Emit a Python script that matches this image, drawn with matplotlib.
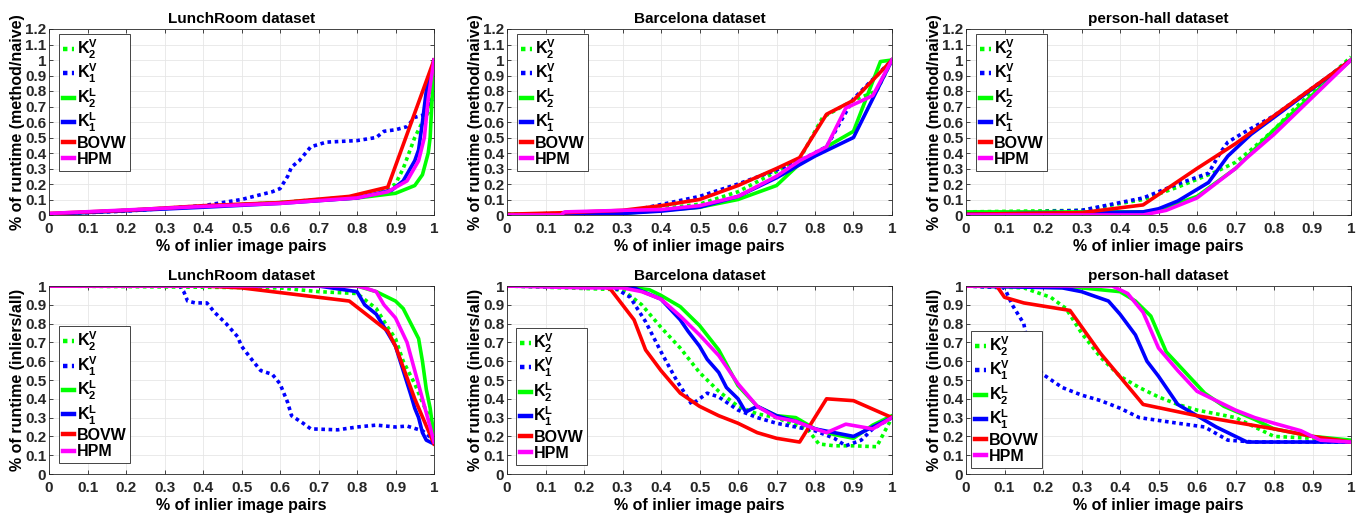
import numpy as np
import matplotlib
matplotlib.use("Agg")
import matplotlib.pyplot as plt

plt.rcParams['font.family'] = ['Liberation Sans', 'DejaVu Sans']
plt.rcParams['font.weight'] = 'bold'
plt.rcParams['mathtext.fontset'] = 'custom'
plt.rcParams['mathtext.bf'] = 'Liberation Sans:bold'
plt.rcParams['mathtext.rm'] = 'Liberation Sans:bold'

titles = ['LunchRoom dataset', 'Barcelona dataset', 'person-hall dataset']
methods = ['K2V', 'K1V', 'K2L', 'K1L', 'BOVW', 'HPM']
labels = [r'$\mathbf{K_2^V}$', r'$\mathbf{K_1^V}$', r'$\mathbf{K_2^L}$',
          r'$\mathbf{K_1^L}$', 'BOVW', 'HPM']
colors = ['#00ff00', '#0000ff', '#00ff00', '#0000ff', '#ff0000', '#ff00ff']
styles = [(0, (1, 1)), (0, (1, 1)), '-', '-', '-', '-']

# ---- top row: runtime (method/naive) ----
lunch_rt = {
    'K2V': ([0, 0.6, 0.85, 0.9, 0.92, 0.95, 0.97, 0.99, 1],
            [0.005, 0.08, 0.13, 0.2, 0.3, 0.5, 0.6, 0.68, 1.0]),
    'K1V': ([0, 0.2, 0.4, 0.5, 0.58, 0.6, 0.62, 0.63, 0.65, 0.68, 0.72, 0.8, 0.85, 0.87, 0.9, 0.93, 0.95, 0.98, 0.99, 1],
            [0.005, 0.025, 0.06, 0.1, 0.15, 0.17, 0.25, 0.31, 0.35, 0.44, 0.47, 0.48, 0.5, 0.54, 0.55, 0.57, 0.63, 0.65, 0.75, 0.72]),
    'K2L': ([0, 0.4, 0.6, 0.8, 0.9, 0.95, 0.97, 0.985, 0.99, 0.995, 1],
            [0.005, 0.055, 0.08, 0.11, 0.14, 0.19, 0.26, 0.4, 0.5, 0.75, 1.0]),
    'K1L': ([0, 0.4, 0.6, 0.8, 0.89, 0.92, 0.95, 0.96, 0.97, 0.98, 1],
            [0.005, 0.05, 0.075, 0.11, 0.16, 0.22, 0.35, 0.42, 0.6, 0.8, 1.0]),
    'BOVW': ([0, 0.2, 0.4, 0.6, 0.78, 0.88, 1],
             [0.01, 0.03, 0.06, 0.08, 0.12, 0.18, 1.0]),
    'HPM': ([0, 0.4, 0.6, 0.8, 0.88, 0.93, 0.96, 0.975, 0.985, 1],
            [0.01, 0.055, 0.075, 0.11, 0.15, 0.22, 0.35, 0.5, 0.75, 1.0]),
}
barca_rt = {
    'K2V': ([0, 0.3, 0.5, 0.6, 0.7, 0.76, 0.82, 0.9, 0.96, 1],
            [0.005, 0.01, 0.07, 0.15, 0.28, 0.36, 0.63, 0.74, 0.8, 1.0]),
    'K1V': ([0, 0.3, 0.5, 0.6, 0.7, 0.76, 0.83, 0.9, 1],
            [0.005, 0.015, 0.12, 0.2, 0.29, 0.35, 0.44, 0.75, 1.0]),
    'K2L': ([0, 0.3, 0.5, 0.6, 0.7, 0.76, 0.83, 0.9, 0.97, 1],
            [0.005, 0.01, 0.05, 0.1, 0.19, 0.33, 0.44, 0.54, 0.99, 1.0]),
    'K1L': ([0, 0.3, 0.4, 0.5, 0.6, 0.7, 0.8, 0.9, 0.95, 1],
            [0, 0.01, 0.025, 0.05, 0.12, 0.24, 0.38, 0.5, 0.75, 1.0]),
    'BOVW': ([0, 0.15, 0.3, 0.4, 0.5, 0.6, 0.7, 0.76, 0.83, 0.9, 0.95, 1],
             [0.005, 0.015, 0.03, 0.06, 0.1, 0.19, 0.3, 0.37, 0.65, 0.74, 0.87, 1.0]),
    'HPM': ([0, 0.14, 0.15, 0.3, 0.4, 0.5, 0.6, 0.7, 0.76, 0.83, 0.88, 0.95, 1],
            [0, 0, 0.02, 0.03, 0.035, 0.06, 0.12, 0.25, 0.35, 0.44, 0.69, 0.77, 1.0]),
}
hall_rt = {
    'K2V': ([0, 0.3, 0.46, 0.55, 0.6, 0.65, 0.7, 0.74, 0.8, 0.85, 1],
            [0.02, 0.03, 0.1, 0.18, 0.23, 0.28, 0.34, 0.42, 0.55, 0.68, 1.02]),
    'K1V': ([0, 0.3, 0.46, 0.55, 0.63, 0.66, 0.68, 0.72, 0.8, 1],
            [0.005, 0.03, 0.11, 0.2, 0.27, 0.4, 0.47, 0.53, 0.64, 1.0]),
    'K2L': ([0, 0.46, 0.5, 0.6, 0.7, 0.8, 1],
            [0.02, 0.02, 0.03, 0.12, 0.3, 0.55, 1.0]),
    'K1L': ([0, 0.46, 0.5, 0.55, 0.63, 0.68, 0.74, 0.8, 1],
            [0.005, 0.02, 0.04, 0.09, 0.21, 0.38, 0.52, 0.63, 1.0]),
    'BOVW': ([0, 0.3, 0.46, 0.6, 0.7, 0.8, 1],
             [0.005, 0.015, 0.065, 0.3, 0.46, 0.64, 1.0]),
    'HPM': ([0, 0.46, 0.52, 0.6, 0.7, 0.73, 0.8, 1],
            [0, 0, 0.03, 0.11, 0.3, 0.37, 0.52, 1.0]),
}

# ---- bottom row: inliers/all ----
lunch_in = {
    'K2V': ([0, 0.6, 0.7, 0.8, 0.85, 0.88, 0.9, 0.92, 0.95, 0.97, 1],
            [1, 0.99, 0.97, 0.96, 0.88, 0.78, 0.72, 0.6, 0.48, 0.38, 0.25]),
    'K1V': ([0, 0.34, 0.35, 0.36, 0.38, 0.41, 0.43, 0.46, 0.49, 0.5, 0.53, 0.55, 0.58, 0.6, 0.62, 0.63, 0.66, 0.68, 0.75, 0.8, 0.85, 0.9, 0.93, 0.97, 1],
            [1, 1, 0.97, 0.92, 0.91, 0.91, 0.86, 0.8, 0.73, 0.68, 0.6, 0.55, 0.53, 0.48, 0.38, 0.31, 0.27, 0.24, 0.235, 0.25, 0.26, 0.25, 0.255, 0.23, 0.18]),
    'K2L': ([0, 0.8, 0.85, 0.88, 0.9, 0.92, 0.94, 0.96, 0.97, 0.98, 0.99, 1],
            [1, 1, 0.97, 0.94, 0.92, 0.88, 0.8, 0.72, 0.6, 0.45, 0.35, 0.2]),
    'K1L': ([0, 0.7, 0.8, 0.82, 0.85, 0.88, 0.9, 0.92, 0.94, 0.95, 0.96, 0.97, 0.98, 1],
            [1, 1, 0.97, 0.9, 0.85, 0.75, 0.68, 0.55, 0.42, 0.35, 0.3, 0.22, 0.18, 0.16]),
    'BOVW': ([0, 0.4, 0.5, 0.78, 0.88, 0.9, 0.95, 1],
             [1, 1, 0.99, 0.92, 0.76, 0.68, 0.4, 0.16]),
    'HPM': ([0, 0.8, 0.82, 0.85, 0.87, 0.9, 0.93, 0.95, 0.97, 0.99, 1],
            [1, 1, 0.99, 0.97, 0.9, 0.83, 0.7, 0.55, 0.4, 0.25, 0.17]),
}
barca_in = {
    'K2V': ([0, 0.3, 0.35, 0.4, 0.45, 0.5, 0.55, 0.6, 0.65, 0.7, 0.75, 0.78, 0.81, 0.85, 0.9, 0.96, 1],
            [1, 0.98, 0.9, 0.78, 0.67, 0.54, 0.44, 0.36, 0.32, 0.3, 0.26, 0.24, 0.16, 0.15, 0.15, 0.145, 0.3]),
    'K1V': ([0, 0.28, 0.32, 0.36, 0.4, 0.44, 0.48, 0.52, 0.55, 0.6, 0.65, 0.7, 0.75, 0.8, 0.85, 0.88, 0.92, 0.95, 1],
            [1, 0.99, 0.94, 0.81, 0.65, 0.5, 0.37, 0.43, 0.41, 0.34, 0.3, 0.27, 0.25, 0.23, 0.19, 0.15, 0.18, 0.24, 0.3]),
    'K2L': ([0, 0.3, 0.33, 0.37, 0.4, 0.45, 0.5, 0.55, 0.6, 0.65, 0.7, 0.75, 0.8, 0.85, 0.9, 0.95, 1],
            [1, 1, 0.99, 0.98, 0.95, 0.89, 0.79, 0.66, 0.47, 0.36, 0.31, 0.3, 0.24, 0.21, 0.19, 0.26, 0.31]),
    'K1L': ([0, 0.3, 0.33, 0.4, 0.45, 0.47, 0.5, 0.52, 0.55, 0.57, 0.6, 0.62, 0.65, 0.7, 0.75, 0.8, 0.85, 0.9, 0.95, 1],
            [1, 1, 0.99, 0.93, 0.82, 0.76, 0.68, 0.61, 0.54, 0.46, 0.4, 0.33, 0.36, 0.31, 0.28, 0.24, 0.22, 0.2, 0.25, 0.3]),
    'BOVW': ([0, 0.25, 0.27, 0.3, 0.33, 0.36, 0.4, 0.45, 0.5, 0.55, 0.6, 0.65, 0.7, 0.76, 0.83, 0.9, 1],
             [1, 1, 0.98, 0.9, 0.82, 0.66, 0.55, 0.43, 0.36, 0.31, 0.27, 0.22, 0.19, 0.17, 0.4, 0.39, 0.3]),
    'HPM': ([0, 0.2, 0.3, 0.35, 0.4, 0.45, 0.5, 0.55, 0.6, 0.65, 0.7, 0.75, 0.8, 0.83, 0.88, 0.95, 1],
            [1, 0.99, 0.99, 0.97, 0.93, 0.84, 0.74, 0.63, 0.48, 0.36, 0.3, 0.28, 0.24, 0.22, 0.265, 0.24, 0.3]),
}
hall_in = {
    'K2V': ([0, 0.15, 0.22, 0.26, 0.3, 0.35, 0.4, 0.45, 0.5, 0.55, 0.6, 0.7, 0.8, 0.9, 1],
            [1, 0.99, 0.94, 0.88, 0.75, 0.62, 0.52, 0.46, 0.41, 0.37, 0.34, 0.3, 0.2, 0.19, 0.17]),
    'K1V': ([0, 0.1, 0.12, 0.15, 0.17, 0.2, 0.25, 0.3, 0.35, 0.4, 0.45, 0.55, 0.62, 0.68, 0.75, 1],
            [1, 0.99, 0.9, 0.8, 0.6, 0.53, 0.46, 0.42, 0.39, 0.35, 0.3, 0.27, 0.25, 0.18, 0.17, 0.17]),
    'K2L': ([0, 0.3, 0.4, 0.44, 0.48, 0.52, 0.57, 0.62, 0.67, 0.75, 0.8, 0.9, 1],
            [1, 0.99, 0.97, 0.92, 0.84, 0.65, 0.54, 0.43, 0.36, 0.29, 0.24, 0.2, 0.18]),
    'K1L': ([0, 0.25, 0.3, 0.37, 0.4, 0.44, 0.47, 0.5, 0.55, 0.6, 0.65, 0.7, 0.73, 1],
            [1, 0.99, 0.97, 0.92, 0.85, 0.74, 0.6, 0.52, 0.37, 0.31, 0.25, 0.2, 0.17, 0.17]),
    'BOVW': ([0, 0.08, 0.1, 0.15, 0.27, 0.35, 0.46, 0.6, 0.8, 0.9, 1],
             [1, 1, 0.94, 0.91, 0.87, 0.64, 0.37, 0.31, 0.24, 0.2, 0.17]),
    'HPM': ([0, 0.38, 0.42, 0.46, 0.5, 0.55, 0.6, 0.65, 0.7, 0.75, 0.8, 0.87, 0.92, 1],
            [1, 1, 0.96, 0.86, 0.67, 0.55, 0.44, 0.39, 0.34, 0.3, 0.27, 0.23, 0.18, 0.17]),
}

top_data = [lunch_rt, barca_rt, hall_rt]
bot_data = [lunch_in, barca_in, hall_in]

fig = plt.figure(figsize=(13.57, 5.14), dpi=100)
lefts = [49 / 1357, 507 / 1357, 966 / 1357]
w = 385 / 1357
top_y, top_h = 1 - 215 / 514, 186 / 514
bot_y, bot_h = 1 - 474 / 514, 188 / 514
leg_x = [0.026, 0.023, 0.013]
leg_bot = [0.058, 0.048, 0.032]


def style_axes(ax, ymax, ylabel, title):
    ax.set_xlim(0, 1)
    ax.set_ylim(0, ymax)
    ax.set_xticks(np.arange(0, 1.01, 0.1))
    ax.set_yticks(np.arange(0, ymax + 0.01, 0.1))
    ax.set_xticklabels(['0'] + ['%.1f' % v for v in np.arange(0.1, 0.95, 0.1)] + ['1'])
    ax.set_yticklabels(['%g' % round(v, 1) for v in np.arange(0, ymax + 0.01, 0.1)])
    ax.tick_params(direction='in', length=3, width=0.6, labelsize=11, pad=2,
                   top=True, right=True, colors='#262626')
    ax.tick_params(axis='x', pad=5)
    ax.grid(True, color='#e6e6e6', linewidth=0.6)
    ax.set_axisbelow(True)
    for s in ax.spines.values():
        s.set_color('#262626')
        s.set_linewidth(0.6)
    ax.set_xlabel('% of inlier image pairs', fontsize=11.5, fontweight='bold', labelpad=2)
    ax.set_ylabel(ylabel, fontsize=11.5, fontweight='bold', labelpad=0)
    ax.set_title(title, fontsize=11, fontweight='bold', pad=4)


leg_kw = dict(handlelength=0.7, handletextpad=0.15, borderpad=0.25,
              labelspacing=0.08, borderaxespad=0, fancybox=False,
              edgecolor='#262626', prop={'weight': 'bold', 'size': 11.5})

for i in range(3):
    for row, data in enumerate([top_data[i], bot_data[i]]):
        if row == 0:
            ax = fig.add_axes([lefts[i], top_y, w, top_h])
        else:
            ax = fig.add_axes([lefts[i], bot_y, w, bot_h])
        for m, lab, c, ls in zip(methods, labels, colors, styles):
            x, y = data[m]
            ax.plot(x, y, color=c, linestyle=ls, linewidth=2.6, label=lab)
        if row == 0:
            style_axes(ax, 1.2, '% of runtime (method/naive)', titles[i])
            leg = ax.legend(loc='upper left', bbox_to_anchor=(0.026, 0.975), **leg_kw)
        else:
            style_axes(ax, 1.0, '% of runtime (inliers/all)', titles[i])
            leg = ax.legend(loc='lower left', bbox_to_anchor=(leg_x[i], leg_bot[i]), **leg_kw)
        leg.get_frame().set_linewidth(0.6)
        leg.get_frame().set_alpha(1)
        for h in leg.legend_handles:
            h.set_linewidth(3.2)

fig.savefig('out.png', dpi=100)
